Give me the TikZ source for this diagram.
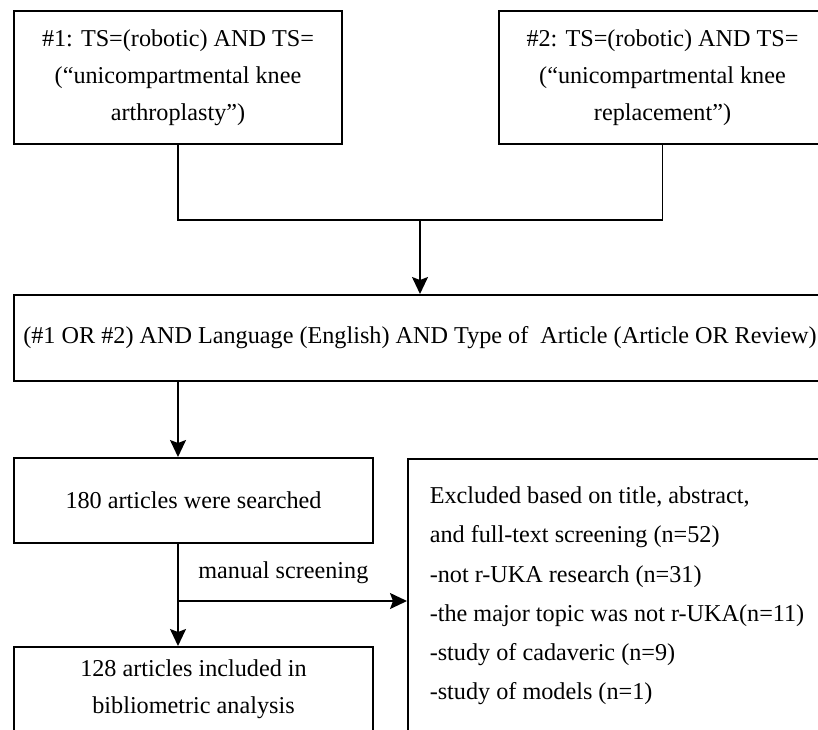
\documentclass[tikz,border=0pt]{standalone}
\usepackage{fontspec}
\setmainfont{Liberation Serif}
\usetikzlibrary{arrows.meta}
\begin{document}
\begin{tikzpicture}[x=0.5pt,y=-0.5pt,
  box/.style={rectangle, draw=black, line width=1pt, fill=none, align=center,
    font=\fontsize{12.1}{18.5}\selectfont},
  link/.style={line width=0.8pt},
  arrow/.style={link, -{Stealth[length=8.5pt,width=8pt,inset=1.5pt]}}]
\clip (0,0) rectangle (818,729);
% search queries
\node [box, minimum width=164pt, minimum height=66.5pt] (q1) at (178,77.5)
  {\#1: TS=(robotic) AND TS=\\(“unicompartmental knee\\arthroplasty”)};
\node [box, minimum width=163.5pt, minimum height=66.5pt] (q2) at (662.5,77.5)
  {\#2: TS=(robotic) AND TS=\\(“unicompartmental knee\\replacement”)};
\node [box, minimum width=406pt, minimum height=43pt] (q3) at (420,338)
  {(\#1 OR \#2) AND Language (English) AND Type of\ \ Article (Article OR Review)};
% screening
\node [box, minimum width=179.5pt, minimum height=42.5pt] (found) at (193.5,500.5)
  {180 articles were searched};
\node [box, minimum width=179.5pt, minimum height=42.5pt] (kept) at (193.5,689.5)
  {128 articles included in\\bibliometric analysis};
\node [box, minimum width=209pt, minimum height=137pt, align=left,
  font=\fontsize{12.1}{19.6}\selectfont] (dropped) at (617,596)
  {Excluded based on title, abstract,\\and full-text screening (n=52)\\-not r-UKA research (n=31)\\-the major topic was not r-UKA(n=11)\\-study of cadaveric (n=9)\\-study of models (n=1)};
\coordinate (join) at (420,220);
\coordinate (split) at (178,601);
\draw [link] (q1.south) |- (join) -| (q2.south);
\draw [arrow] (join) -- (q3.north);
\draw [arrow] (q3.south -| q1.south) -- (found.north -| q1.south);
\draw [arrow] (found.south -| q1.south) -- (kept.north -| q1.south);
\draw [arrow] (split) -- node [above=5pt, pos=0.46, font=\fontsize{12.1}{18}\selectfont] (lbl) {manual screening} (split -| dropped.west);
\end{tikzpicture}
\end{document}
